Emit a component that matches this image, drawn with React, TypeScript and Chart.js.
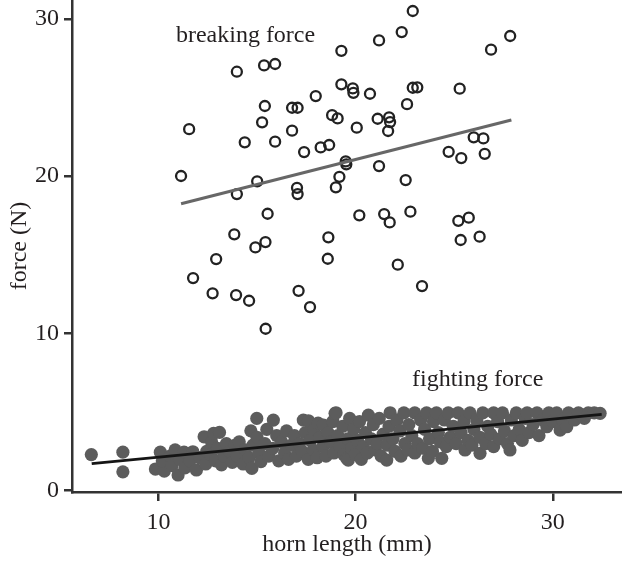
import { useEffect, useRef } from 'react';
import { Chart, registerables } from 'chart.js';

Chart.register(...registerables);

// breaking force (open circles): [horn length mm, force N]
const breakingForce: [number, number][] = [
  [19.28, 27.97], [13.98, 26.64], [15.36, 27.04], [15.92, 27.13], [19.28, 25.84],
  [19.86, 25.58], [19.89, 25.3], [17.98, 25.09], [15.4, 24.46], [16.78, 24.35],
  [17.06, 24.35], [18.81, 23.88], [19.09, 23.67], [15.26, 23.42], [11.56, 22.99],
  [16.78, 22.89], [20.06, 23.08], [14.38, 22.15], [15.92, 22.19], [17.39, 21.53],
  [18.23, 21.83], [18.66, 21.98], [19.5, 20.94], [19.53, 20.75], [11.15, 20.01],
  [15.01, 19.67], [19.18, 19.96], [19.0, 19.29], [13.98, 18.86], [17.03, 19.26],
  [17.06, 18.86], [22.9, 30.5], [22.34, 29.16], [21.19, 28.63], [27.84, 28.91],
  [26.87, 28.04], [20.73, 25.24], [22.9, 25.62], [23.13, 25.65], [25.28, 25.56],
  [22.61, 24.58], [21.12, 23.65], [21.7, 23.74], [21.75, 23.44], [21.65, 22.87],
  [24.72, 21.55], [25.36, 21.15], [25.99, 22.47], [26.48, 22.4], [26.55, 21.42],
  [21.19, 20.64], [22.54, 19.75], [15.54, 17.61], [20.19, 17.51], [13.85, 16.3],
  [14.92, 15.47], [15.43, 15.81], [18.62, 16.11], [12.93, 14.73], [18.59, 14.75],
  [11.76, 13.52], [12.75, 12.55], [13.94, 12.44], [14.6, 12.08], [17.11, 12.71],
  [17.69, 11.68], [15.44, 10.3], [21.45, 17.59], [21.73, 17.06], [22.78, 17.74],
  [25.21, 17.16], [25.74, 17.36], [25.33, 15.94], [26.29, 16.15], [22.14, 14.37],
  [23.37, 13.01],
];

// fighting force (filled circles): [horn length mm, force N]
const fightingForce: [number, number][] = [
  [6.6, 2.3], [8.2, 2.45], [8.2, 1.2],
  [9.85, 1.38], [10.1, 2.45], [10.3, 1.25], [10.2, 1.9], [10.6, 2.2], [10.85, 2.6],
  [10.7, 1.6], [11.0, 1.0], [11.1, 2.0], [11.3, 2.45], [11.35, 1.45], [11.75, 2.48],
  [11.6, 1.9], [11.93, 1.32], [12.1, 2.1], [12.32, 3.43], [12.4, 1.7], [12.45, 2.5],
  [12.7, 3.1], [12.8, 3.65], [12.65, 2.3], [12.9, 1.9], [13.1, 3.71], [13.0, 2.7],
  [13.2, 1.65], [13.35, 2.2], [13.45, 3.0],
  [13.6, 2.5], [13.75, 1.8], [13.9, 2.9], [14.1, 3.11], [14.0, 2.2], [14.3, 1.7],
  [14.4, 2.6], [14.6, 2.1], [14.69, 3.81], [14.74, 1.42], [14.8, 2.9],
  [14.99, 4.6], [15.0, 3.4], [15.1, 2.4], [15.2, 1.85], [15.4, 3.0], [15.5, 3.9],
  [15.6, 2.2], [15.83, 4.49], [15.8, 2.7], [16.0, 3.5], [16.1, 1.9], [16.25, 3.1],
  [16.4, 2.4], [16.5, 3.8], [16.6, 2.0], [16.75, 2.9], [16.9, 3.5], [17.0, 2.2],
  [17.15, 3.0], [17.35, 4.49], [17.3, 2.5], [17.45, 3.7],
  [17.61, 4.45], [17.6, 2.0], [17.7, 3.2], [17.85, 2.6], [17.9, 3.9], [18.05, 2.1],
  [18.1, 4.3], [18.2, 3.4], [18.37, 4.18], [18.35, 2.8], [18.5, 2.2], [18.6, 3.7],
  [18.75, 3.1], [18.85, 4.4], [18.9, 2.4], [18.96, 4.92], [19.01, 4.96], [19.1, 3.5],
  [19.2, 2.8], [19.35, 4.1], [19.4, 2.3], [19.55, 2.06], [19.6, 3.3],
  [19.63, 1.95], [19.7, 4.6], [19.8, 2.7], [19.9, 3.9], [20.0, 2.3], [20.1, 3.2],
  [20.2, 4.4], [20.29, 2.0], [20.4, 2.8], [20.5, 3.7], [20.65, 4.81], [20.6, 2.4],
  [20.8, 3.3], [20.9, 4.2], [21.0, 2.6], [21.1, 3.0], [21.2, 4.6], [21.3, 2.2],
  [21.4, 3.6], [21.58, 1.95], [21.6, 2.9], [21.75, 4.96], [21.7, 4.1],
  [21.9, 3.3], [22.0, 2.5], [22.1, 4.5], [22.25, 3.8], [22.3, 2.2], [22.45, 4.95],
  [22.5, 3.0], [22.65, 2.6], [22.7, 4.2], [22.85, 3.5], [23.0, 4.95], [23.0, 2.4],
  [23.15, 3.0], [23.3, 4.5], [23.4, 2.7], [23.5, 3.9], [23.6, 4.95], [23.69, 2.06],
  [23.75, 3.3], [23.9, 2.5], [23.95, 4.4],
  [24.1, 4.95], [24.2, 3.7], [24.37, 2.06], [24.3, 3.1], [24.5, 4.5], [24.6, 2.8],
  [24.7, 4.95], [24.8, 3.4], [24.95, 4.1], [25.1, 3.0], [25.2, 4.95], [25.35, 3.7],
  [25.55, 2.59], [25.5, 4.4], [25.7, 3.2], [25.8, 4.95], [25.9, 2.9], [26.0, 3.9],
  [26.15, 4.5], [26.31, 2.38], [26.3, 3.4], [26.45, 4.95], [26.6, 3.0], [26.7, 4.1],
  [26.85, 3.6], [27.0, 4.95], [27.0, 2.8],
  [27.2, 4.4], [27.3, 3.3], [27.45, 4.95], [27.55, 3.8], [27.7, 3.0], [27.83, 2.59],
  [27.9, 4.5], [28.05, 3.5], [28.15, 4.95], [28.3, 3.9], [28.45, 3.2], [28.6, 4.6],
  [28.7, 4.95], [28.8, 3.7], [29.0, 4.2], [29.2, 4.95], [29.3, 3.5], [29.5, 4.5],
  [29.7, 4.07], [29.8, 4.95], [30.0, 4.4], [30.2, 4.95], [30.37, 3.86], [30.5, 4.5],
  [30.71, 4.07], [30.8, 4.95], [31.1, 4.5], [31.3, 4.95], [31.6, 4.6], [31.8, 4.95],
  [32.1, 4.95], [32.4, 4.92],
];

// fitted regression lines (end points)
const breakingFit: [number, number][] = [[11.15, 18.25], [27.9, 23.57]];
const fightingFit: [number, number][] = [[6.62, 1.72], [32.48, 4.86]];

const xTicks = [10, 20, 30];
const yTicks = [0, 10, 20, 30];
const seriesLabels = ['breaking force', 'fighting force'];
// label anchor positions in data units [x, y-baseline]
const labelAnchors: [number, number][] = [[14.42, 28.54], [26.19, 6.66]];
const xTitle = 'horn length (mm)';
const yTitle = 'force (N)';

const FAMILY = '"Liberation Serif", "Times New Roman", serif';

const toXY = (arr: [number, number][]) => arr.map(([x, y]) => ({ x, y }));

export default function App() {
  const ref = useRef<HTMLCanvasElement>(null);

  useEffect(() => {
    if (!ref.current) return;
    const font = { family: FAMILY, size: 24, weight: 'normal' as const };
    const ink = '#231f20';

    const labelPlugin = {
      id: 'seriesLabels',
      afterDatasetsDraw(chart: any) {
        const { ctx, scales } = chart;
        const x = scales.x;
        const y = scales.y;
        ctx.save();
        ctx.font = `24px ${FAMILY}`;
        ctx.fillStyle = ink;
        ctx.textAlign = 'center';
        ctx.textBaseline = 'alphabetic';
        seriesLabels.forEach((t, i) => {
          ctx.fillText(t, x.getPixelForValue(labelAnchors[i][0]), y.getPixelForValue(labelAnchors[i][1]));
        });
        ctx.restore();
      },
    };

    const chart = new Chart(ref.current, {
      type: 'scatter',
      data: {
        datasets: [
          {
            label: 'breaking fit',
            data: toXY(breakingFit),
            showLine: true,
            borderColor: '#676767',
            borderWidth: 3,
            pointRadius: 0,
            order: 0,
          },
          {
            label: 'fighting fit',
            data: toXY(fightingFit),
            showLine: true,
            borderColor: '#151515',
            borderWidth: 2.8,
            pointRadius: 0,
            order: 0,
          },
          {
            label: seriesLabels[0],
            data: toXY(breakingForce),
            pointRadius: 5,
            pointBorderWidth: 2.3,
            pointBorderColor: '#222222',
            pointBackgroundColor: 'rgba(0,0,0,0)',
            order: 1,
          },
          {
            label: seriesLabels[1],
            data: toXY(fightingForce),
            pointRadius: 6.6,
            pointBorderWidth: 0,
            pointBackgroundColor: '#5c5c5c',
            pointBorderColor: '#5c5c5c',
            order: 2,
          },
        ],
      },
      options: {
        animation: false,
        responsive: false,
        devicePixelRatio: 1,
        layout: { padding: 0, autoPadding: false },
        plugins: { legend: { display: false }, tooltip: { enabled: false } },
        scales: {
          x: {
            type: 'linear',
            min: 5.62,
            max: 33.51,
            afterBuildTicks: (s: any) => {
              s.ticks = xTicks.map((v) => ({ value: v }));
            },
            afterFit: (s: any) => {
              s.height = 75;
              s.paddingLeft = 0;
              s.paddingRight = 0;
            },
            grid: { drawOnChartArea: false, drawTicks: true, tickLength: 9, color: '#333', lineWidth: 2.5 },
            border: { display: true, color: '#333', width: 2.5 },
            ticks: { font, color: ink, padding: 7, maxRotation: 0 },
            title: { display: true, text: xTitle, font, color: ink, padding: { top: 0, bottom: 8 } },
          },
          y: {
            type: 'linear',
            min: -0.08,
            max: 31.2,
            afterBuildTicks: (s: any) => {
              s.ticks = yTicks.map((v) => ({ value: v }));
            },
            afterFit: (s: any) => {
              s.width = 72;
              s.paddingTop = 0;
              s.paddingBottom = 0;
            },
            grid: { drawOnChartArea: false, drawTicks: true, tickLength: 8, color: '#333', lineWidth: 2.5 },
            border: { display: true, color: '#333', width: 2.5 },
            ticks: { font, color: ink, padding: 5 },
            title: { display: true, text: yTitle, font, color: ink, padding: { top: 5, bottom: 0 } },
          },
        },
      },
      plugins: [labelPlugin],
    });
    return () => chart.destroy();
  }, []);

  return (
    <canvas
      ref={ref}
      width={622}
      height={567}
      style={{ position: 'absolute', left: 0, top: 0, width: 622, height: 567 }}
    />
  );
}
